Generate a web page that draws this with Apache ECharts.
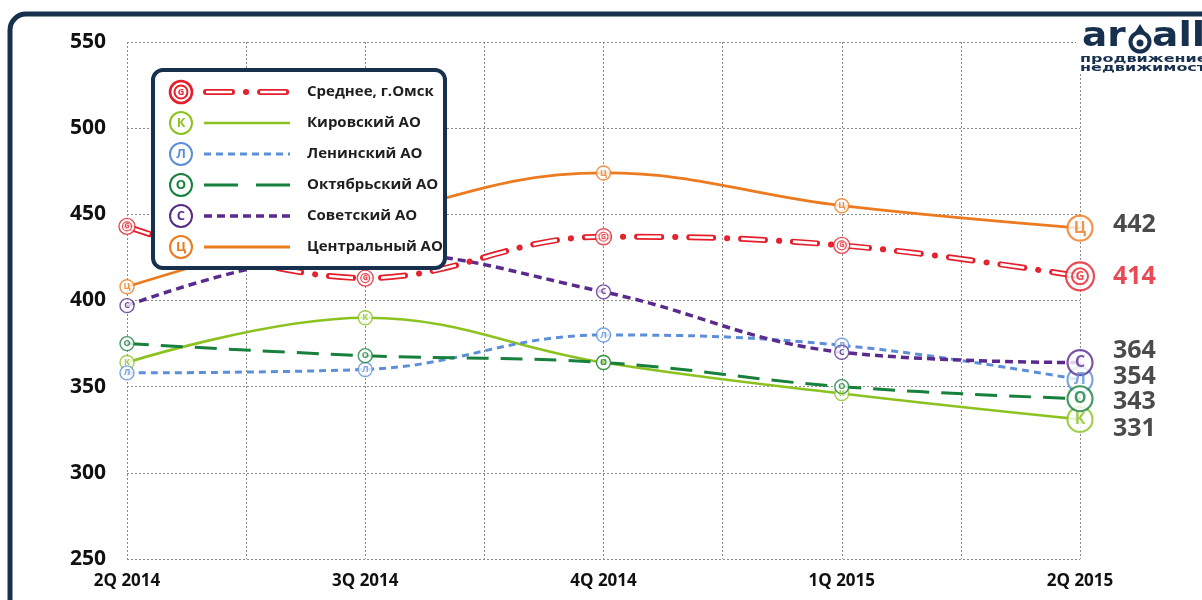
<!DOCTYPE html>
<html>
<head>
<meta charset="utf-8">
<script src="https://cdn.jsdelivr.net/npm/echarts@6/dist/echarts.min.js"></script>
<style>
  html, body { margin: 0; padding: 0; background: #fff; }
  #chart { width: 1202px; height: 600px; }
</style>
</head>
<body>
<div id="chart"></div>
<script>
// Quarters along the x axis
const categories = ['2Q 2014', '3Q 2014', '4Q 2014', '1Q 2015', '2Q 2015'];

// Values per district (thous. rub per sq. m)
const avgOmsk    = [443, 413, 437, 432, 414];
const kirovsky   = [364, 390, 364, 346, 331];
const leninsky   = [358, 360, 380, 374, 354];
const oktyabrsky = [375, 368, 364, 350, 343];
const sovetsky   = [397, 428, 405, 370, 364];
const tsentralny = [408, 447, 474, 455, 442];

// Names, badge letters and colours
const seriesNames = ['Среднее, г.Омск', 'Кировский АО', 'Ленинский АО', 'Октябрьский АО', 'Советский АО', 'Центральный АО'];
const badgeLetters = ['G', 'К', 'Л', 'О', 'С', 'Ц'];
const colors = ['#e41e2b', '#8cc220', '#5d8fd8', '#16803c', '#5a2a8c', '#ec7a1e'];

const yTicks = [250, 300, 350, 400, 450, 500, 550];

const FONT = '"Open Sans", "Noto Sans", sans-serif';
const NAVY = '#17304d';
const RED_DASH = [24, 14, 0.1, 14];

const datasets = [avgOmsk, kirovsky, leninsky, oktyabrsky, sovetsky, tsentralny];
const lineStyles = [
  null,
  { width: 2.6, type: 'solid' },
  { width: 3, type: [7, 5] },
  { width: 3, type: [22, 12] },
  { width: 3.5, type: [8, 5] },
  { width: 2.8, type: 'solid' }
];
// vertical nudges for the end-value labels so they do not collide
const endLabelShift = [1, 9, -3, 3, -12, -3];

const last = categories.length - 1;
const pts = arr => arr.map((v, i) => [i, v]);

const series = [];

// the average line: red outlined pills with dots
series.push({
  type: 'line', name: seriesNames[0], data: pts(avgOmsk), smooth: 0.4,
  showSymbol: false, silent: true, z: 3,
  lineStyle: { color: colors[0], width: 6, type: RED_DASH, cap: 'round' }
});
series.push({
  type: 'line', name: seriesNames[0] + '-inner', data: pts(avgOmsk), smooth: 0.4,
  showSymbol: false, silent: true, z: 3,
  lineStyle: { color: '#ffffff', width: 2.6, type: RED_DASH, cap: 'butt' }
});

for (let s = 1; s < datasets.length; s++) {
  series.push({
    type: 'line', name: seriesNames[s], data: pts(datasets[s]), smooth: 0.4,
    showSymbol: false, silent: true, z: 2,
    lineStyle: { color: colors[s], width: lineStyles[s].width, type: lineStyles[s].type }
  });
}

// badges with letters on every point
for (let s = 0; s < datasets.length; s++) {
  const isRed = s === 0;
  series.push({
    type: 'scatter', name: seriesNames[s] + '-badge', silent: true, z: 5,
    data: datasets[s].map((v, i) => {
      const big = i === last;
      return {
        value: [i, v],
        symbolSize: big ? (isRed ? 28 : 25) : (isRed ? 16 : 14),
        itemStyle: { borderWidth: big ? 2.2 : 1.4 },
        label: isRed
          ? { formatter: big ? '{b|G}' : '{s|G}' }
          : { fontSize: big ? 16 : 9 }
      };
    }),
    itemStyle: { color: '#fff', borderColor: colors[s], borderWidth: 1.4 },
    label: {
      show: true, position: 'inside', color: colors[s], fontWeight: 'bold',
      fontFamily: FONT, formatter: badgeLetters[s],
      rich: {
        s: { color: colors[0], fontWeight: 'bold', fontSize: 7, fontFamily: FONT,
             borderColor: colors[0], borderWidth: 1.2, borderRadius: 5,
             width: 9, height: 9, lineHeight: 9, align: 'center' },
        b: { color: colors[0], fontWeight: 'bold', fontSize: 12, fontFamily: FONT,
             borderColor: colors[0], borderWidth: 2, borderRadius: 9,
             width: 16, height: 16, lineHeight: 16, align: 'center' }
      }
    }
  });
}

// end values at the right of the last quarter
for (let s = 0; s < datasets.length; s++) {
  series.push({
    type: 'scatter', name: seriesNames[s] + '-end', silent: true, z: 6,
    symbolSize: 26,
    itemStyle: { color: 'rgba(0,0,0,0)' },
    data: [[last, datasets[s][last]]],
    label: {
      show: true, position: 'right', distance: 20, offset: [0, endLabelShift[s]],
      formatter: p => String(p.value[1]),
      fontFamily: FONT, fontWeight: 'bold', fontSize: 25,
      color: s === 0 ? colors[0] : '#1e1e1e'
    }
  });
}

// legend panel
const legendX = 153, legendY = 70, rowGap = 31, LZ = 50;
const legendChildren = [{
  type: 'rect', z: LZ,
  shape: { x: legendX, y: legendY, width: 292, height: 198, r: 10 },
  style: { fill: '#fff', stroke: NAVY, lineWidth: 4 }
}];
for (let s = 0; s < seriesNames.length; s++) {
  const cy = legendY + 22 + s * rowGap;
  legendChildren.push({
    type: 'circle', z: LZ + 1, shape: { cx: 181, cy: cy, r: 11 },
    style: { fill: '#fff', stroke: colors[s], lineWidth: s === 0 ? 2.6 : 2 }
  });
  if (s === 0) {
    legendChildren.push({
      type: 'circle', z: LZ + 2, shape: { cx: 181, cy: cy, r: 6.5 },
      style: { fill: 'none', stroke: colors[s], lineWidth: 2 }
    });
  }
  legendChildren.push({
    type: 'text', z: LZ + 3, x: 181, y: cy + 0.5,
    style: {
      text: badgeLetters[s], fill: colors[s], font: 'bold ' + (s === 0 ? 9 : 13) + 'px ' + FONT,
      textAlign: 'center', textVerticalAlign: 'middle'
    }
  });
  if (s === 0) {
    legendChildren.push({
      type: 'line', z: LZ + 1, shape: { x1: 206, y1: cy, x2: 287, y2: cy },
      style: { stroke: colors[0], lineWidth: 6, lineCap: 'round', lineDash: [26, 14, 0.1, 14] }
    });
    legendChildren.push({
      type: 'line', z: LZ + 2, shape: { x1: 206, y1: cy, x2: 287, y2: cy },
      style: { stroke: '#fff', lineWidth: 2.6, lineCap: 'butt', lineDash: [26, 14, 0.1, 14] }
    });
  } else {
    const t = lineStyles[s].type;
    legendChildren.push({
      type: 'line', z: LZ + 1, shape: { x1: 204, y1: cy, x2: 290, y2: cy },
      style: {
        stroke: colors[s], lineWidth: lineStyles[s].width,
        lineDash: t === 'solid' ? null : (s === 3 ? [34, 18] : t)
      }
    });
  }
  legendChildren.push({
    type: 'text', z: LZ + 1, x: 307, y: cy,
    style: {
      text: seriesNames[s], fill: '#1e1e1e', font: 'bold 15px ' + FONT,
      textAlign: 'left', textVerticalAlign: 'middle'
    }
  });
}

const LOGO_FONT = 'bold 34px "DejaVu Sans", sans-serif';
const TAG_FONT = 'bold 10px "DejaVu Sans", sans-serif';

const chart = echarts.init(document.getElementById('chart'), null, { renderer: 'canvas' });
chart.setOption({
  backgroundColor: '#ffffff',
  animation: false,
  grid: { left: 127, right: 122, top: 42, bottom: 41, containLabel: false },
  xAxis: {
    type: 'value', min: 0, max: last, interval: 0.5,
    axisLine: { show: false }, axisTick: { show: false },
    axisLabel: {
      margin: 14, color: '#111', fontFamily: FONT, fontWeight: 'bold', fontSize: 17,
      formatter: v => (Number.isInteger(v) ? categories[v] : '')
    },
    splitLine: { show: true, lineStyle: { color: '#8a8a8a', width: 1, type: [2, 2] } }
  },
  yAxis: {
    type: 'value', min: yTicks[0], max: yTicks[yTicks.length - 1], interval: 50,
    axisLine: { show: false }, axisTick: { show: false },
    axisLabel: { margin: 21, color: '#111', fontFamily: FONT, fontWeight: 'bold', fontSize: 21 },
    splitLine: { show: true, lineStyle: { color: '#8a8a8a', width: 1, type: [2, 2] } }
  },
  series: series,
  graphic: [
    // outer rounded frame
    {
      type: 'rect', z: 0, silent: true,
      shape: { x: 10, y: 14, width: 1220, height: 620, r: 16 },
      style: { fill: 'none', stroke: NAVY, lineWidth: 5 }
    },
    // brand mark in the corner
    {
      type: 'group', silent: true,
      children: [
        { type: 'rect', z: 40, shape: { x: 1076, y: 24, width: 130, height: 50 }, style: { fill: '#fff' } },
        { type: 'text', z: 41, x: 1082, y: 54, scaleX: 1.1, style: { text: 'ar', fill: NAVY, font: LOGO_FONT, textVerticalAlign: 'bottom' } },
        { type: 'circle', z: 41, shape: { cx: 1140, cy: 42, r: 9.5 }, style: { fill: 'none', stroke: NAVY, lineWidth: 4 } },
        { type: 'circle', z: 41, shape: { cx: 1140, cy: 43, r: 3.5 }, style: { fill: NAVY } },
        { type: 'polygon', z: 41, shape: { points: [[1135, 32], [1140, 24], [1145, 32]] }, style: { fill: NAVY } },
        { type: 'text', z: 41, x: 1152, y: 54, scaleX: 1.15, style: { text: 'all', fill: NAVY, font: LOGO_FONT, textVerticalAlign: 'bottom' } },
        { type: 'text', z: 41, x: 1080, y: 59, scaleX: 1.6, style: { text: 'продвижение', fill: NAVY, font: TAG_FONT, textVerticalAlign: 'middle' } },
        { type: 'text', z: 41, x: 1080, y: 68, scaleX: 1.6, style: { text: 'недвижимости', fill: NAVY, font: TAG_FONT, textVerticalAlign: 'middle' } }
      ]
    },
    { type: 'group', silent: true, children: legendChildren }
  ]
});
</script>
</body>
</html>
